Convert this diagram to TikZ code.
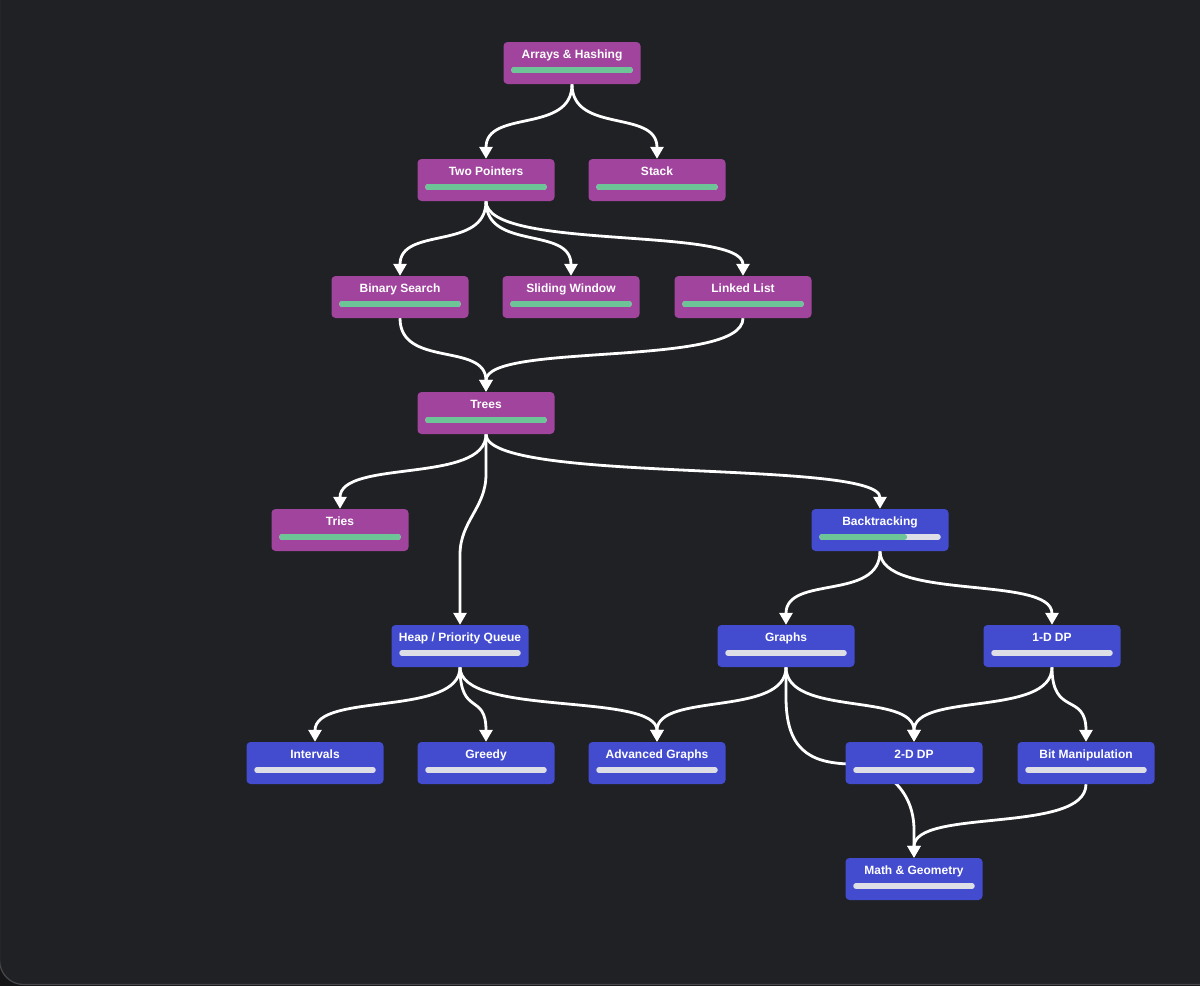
\documentclass[tikz,border=0pt]{standalone}
\usepackage{fontspec}
\setmainfont{Liberation Sans}
\usetikzlibrary{arrows.meta,backgrounds,calc}

\definecolor{panel}{HTML}{202124}
\definecolor{outside}{HTML}{151517}
\definecolor{rim}{HTML}{48484C}
\definecolor{plum}{HTML}{A0449D}
\definecolor{indigo}{HTML}{434BCF}
\definecolor{mint}{HTML}{6CC497}
\definecolor{track}{HTML}{DEDEE6}

\newcommand{\prog}{1}

\begin{document}
\begin{tikzpicture}[
x=1pt, y=-1pt,
topic/.style={rectangle, rounded corners=4pt, minimum width=137pt, inner sep=0pt,
  text height=16pt, text depth=26pt, text=white,
  font=\bfseries\fontsize{12}{14}\selectfont,
  path picture={
    \coordinate (barL) at ([xshift=10.5pt,yshift=14pt]path picture bounding box.south west);
    \coordinate (barR) at ([xshift=-10.5pt,yshift=14pt]path picture bounding box.south east);
    \draw[line width=5.5pt, line cap=round, track] (barL) -- (barR);
    \ifdim\prog pt>0pt
      \draw[line width=5.5pt, line cap=round, mint] (barL) -- ($(barL)!\prog!(barR)$);
    \fi
  }},
progress/.code={\renewcommand{\prog}{#1}},
learned/.style={topic, fill=plum, progress=1},
partial/.style={topic, fill=indigo, progress=0.71},
fresh/.style={topic, fill=indigo, progress=0},
link/.style={draw=white, line width=2.8pt, -{Triangle[length=12pt,width=13pt]}},
sway/.style={out=-90, in=90, distance=#1}
]
\useasboundingbox (0,0) rectangle (1200,986);

% topics, row by row
\node[learned] (arrays) at (572,63) {Arrays \& Hashing};

\node[learned] (twoptr) at (486,180) {Two Pointers};
\node[learned] (stack) at (657,180) {Stack};

\node[learned] (binsearch) at (400,297) {Binary Search};
\node[learned] (window) at (571,297) {Sliding Window};
\node[learned] (linked) at (743,297) {Linked List};

\node[learned] (trees) at (486,413) {Trees};

\node[learned] (tries) at (340,530) {Tries};
\node[partial] (backtrack) at (880,530) {Backtracking};

\node[fresh] (heap) at (460,646) {Heap / Priority Queue};
\node[fresh] (graphs) at (786,646) {Graphs};
\node[fresh] (dpone) at (1052,646) {1-D DP};

\node[fresh] (intervals) at (315,763) {Intervals};
\node[fresh] (greedy) at (486,763) {Greedy};
\node[fresh] (advgraphs) at (657,763) {Advanced Graphs};
\node[fresh] (dptwo) at (914,763) {2-D DP};
\node[fresh] (bits) at (1086,763) {Bit Manipulation};

\node[fresh] (mathgeo) at (914,879) {Math \& Geometry};

\begin{scope}[on background layer]
  \fill[outside] (0,0) rectangle (1200,986);
  \draw[rim, fill=panel, line width=1.2pt, rounded corners=24pt] (-0.4,-40) rectangle (1240,984.5);

  % prerequisites
  \draw[link] (arrays.south) to[sway=50pt] (twoptr.north);
  \draw[link] (arrays.south) to[sway=50pt] (stack.north);

  \draw[link] (twoptr.south) to[sway=50pt] (binsearch.north);
  \draw[link] (twoptr.south) to[sway=50pt] (window.north);
  \draw[link] (twoptr.south) to[sway=50pt] (linked.north);

  \draw[link] (binsearch.south) to[sway=50pt] (trees.north);
  \draw[link] (linked.south) to[sway=50pt] (trees.north);

  \draw[link] (trees.south) to[sway=50pt] (tries.north);
  \draw[link] (trees.south) to[sway=50pt] (backtrack.north);
  \draw[link] (trees.south) -- ++(0,40) to[sway=34pt] ($(heap.north)+(0,-70)$) -- (heap.north);

  \draw[link] (backtrack.south) to[sway=50pt] (graphs.north);
  \draw[link] (backtrack.south) to[sway=50pt] (dpone.north);

  \draw[link] (heap.south) to[sway=50pt] (intervals.north);
  \draw[link] (heap.south) to[sway=50pt] (greedy.north);
  \draw[link] (heap.south) to[sway=50pt] (advgraphs.north);

  \draw[link] (graphs.south) to[sway=50pt] (advgraphs.north);
  \draw[link] (graphs.south) to[sway=50pt] (dptwo.north);
  \draw[link] (graphs.south) -- ++(0,30) .. controls (786,748) and (808,763) .. (850,764)
    .. controls (885,766) and (914,790) .. (914,830) -- (mathgeo.north);

  \draw[link] (dpone.south) to[sway=50pt] (dptwo.north);
  \draw[link] (dpone.south) to[sway=50pt] (bits.north);

  \draw[link] (bits.south) to[sway=50pt] (mathgeo.north);
\end{scope}
\end{tikzpicture}
\end{document}
